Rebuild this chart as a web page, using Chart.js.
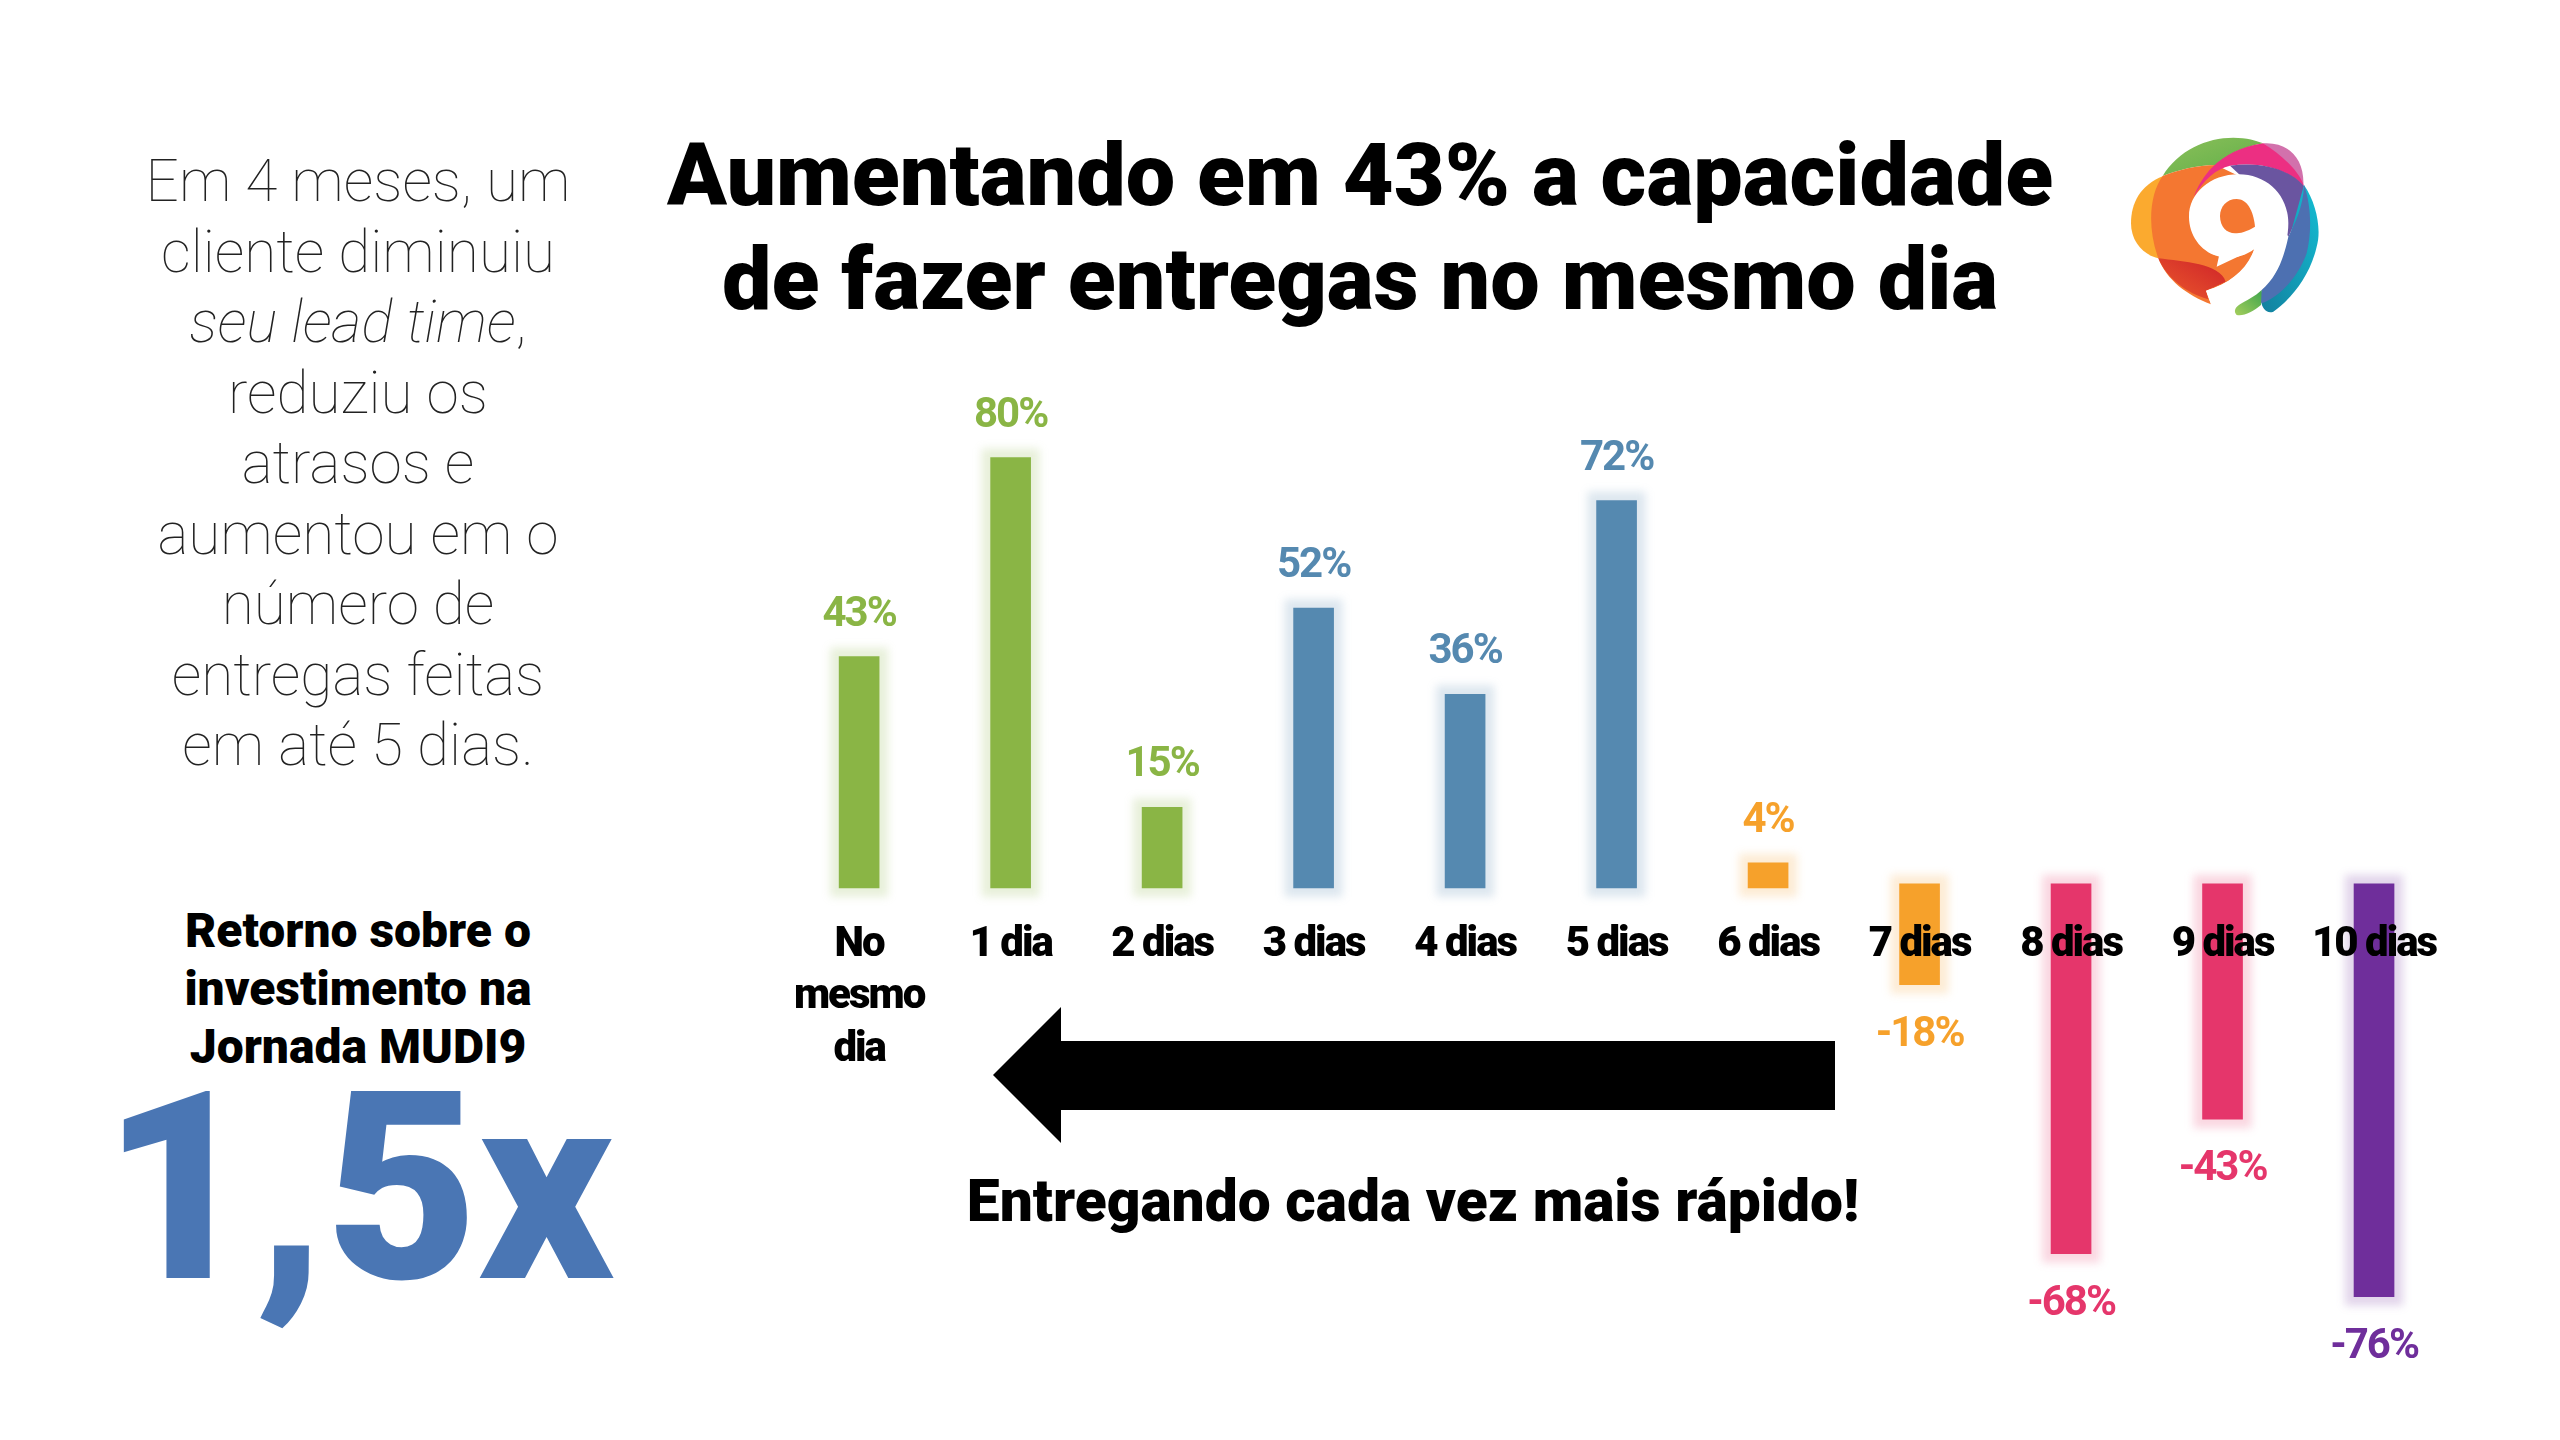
<!DOCTYPE html>
<html lang="pt-BR">
<head>
<meta charset="utf-8">
<title>Aumentando em 43% a capacidade de fazer entregas no mesmo dia</title>
<script src="https://cdn.jsdelivr.net/npm/chart.js@4"></script>
<style>
  html, body { margin: 0; padding: 0; background: #fff; }
  body { width: 2560px; height: 1440px; position: relative; overflow: hidden; font-family: Roboto, sans-serif; }
  .abs { position: absolute; text-align: center; white-space: nowrap; }
  #title { left: 560px; width: 1600px; top: 123px; font-size: 88px; line-height: 104px; font-weight: 900; color: #000; }
  #intro { left: 58px; width: 600px; top: 146px; font-size: 58.5px; line-height: 70.5px; font-weight: 100; color: #222; }
  #roi { left: 58px; width: 600px; top: 902px; font-size: 48px; line-height: 58px; font-weight: 900; color: #000; }
  #mult { left: 58px; width: 600px; top: 1040px; font-size: 263px; line-height: 296px; font-weight: 900; color: #4A76B4; }
  #faster { left: 758px; width: 1310px; top: 1165px; font-size: 58.7px; line-height: 72px; font-weight: 900; color: #000; }
  #arrow { position: absolute; left: 980px; top: 1000px; }
  #logo { position: absolute; left: 2050px; top: 100px; }
  #chartBox { position: absolute; left: 759px; top: 350px; width: 1714px; height: 1022px; }
</style>
</head>
<body>
<div id="title" class="abs">Aumentando em 43% a capacidade<br>de fazer entregas no mesmo dia</div>
<div id="intro" class="abs">Em 4 meses, um<br>cliente diminuiu<br><i>seu lead time</i>,<br>reduziu os<br>atrasos e<br>aumentou em o<br>número de<br>entregas feitas<br>em até 5 dias.</div>
<div id="roi" class="abs">Retorno sobre o<br>investimento na<br>Jornada MUDI9</div>
<div id="mult" class="abs">1,5x</div>
<div id="faster" class="abs">Entregando cada vez mais rápido!</div>

<svg id="logo" width="320" height="260" viewBox="0 0 960 780">
  <defs>
    <linearGradient id="gTop" x1="0" y1="0" x2="1" y2="1"><stop offset="0" stop-color="#8CC05A"/><stop offset="1" stop-color="#5FAE48"/></linearGradient>
    <linearGradient id="gRed" x1="1" y1="0" x2="0" y2="1"><stop offset="0" stop-color="#CE2229"/><stop offset="1" stop-color="#EB5A2C"/></linearGradient>
    <linearGradient id="gTail" x1="1" y1="0" x2="0" y2="1"><stop offset="0" stop-color="#3FA54D"/><stop offset="1" stop-color="#A5CE5C"/></linearGradient>
    <linearGradient id="gTeal" x1="1" y1="0" x2="0" y2="1"><stop offset="0" stop-color="#14BDD3"/><stop offset="1" stop-color="#12809E"/></linearGradient>
  </defs>
  <path fill="#FBAA2F" d="M340 228 C270 255 243 310 243 370 C243 425 280 465 325 475 Z"/>
  <path fill="url(#gTop)" d="M338 228 C385 150 470 113 550 113 C590 113 620 122 640 130 C580 140 530 165 498 195 C440 195 385 210 338 228 Z"/>
  <path fill="#F47731" d="M338 228 C385 210 440 195 498 195 L560 225 L500 500 L613 447 C590 510 540 550 468 572 L483 613 C410 585 350 540 325 475 C290 380 300 280 338 228 Z"/>
  <path fill="url(#gRed)" d="M325 475 C400 485 510 490 527 545 C510 553 490 562 468 572 L475 598 C410 580 350 535 325 475 Z"/>
  <path fill="#D271AC" d="M640 130 C720 125 765 180 760 260 C720 200 680 160 640 130 Z"/>
  <path fill="#EC2F82" d="M432 290 C450 240 500 150 640 130 C700 170 745 210 762 258 C700 200 620 185 540 197 C500 205 460 240 432 290 Z"/>
  <path fill="#6A55A0" d="M540 197 C620 185 710 200 762 258 C760 320 735 370 715 410 L650 300 Z"/>
  <path fill="url(#gTeal)" d="M762 255 C800 310 815 390 800 440 C780 530 720 600 670 635 C650 642 635 625 633 600 L700 480 Z"/>
  <path fill="#4D70B1" d="M762 255 C785 320 785 400 770 460 C745 530 690 590 635 610 C630 600 630 585 635 570 C680 530 700 480 715 410 C735 370 760 320 762 255 Z"/>
  <path fill="url(#gTail)" d="M635 570 L633 615 C610 635 580 650 560 645 C550 635 555 622 570 613 C590 600 615 590 635 570 Z"/>
  <path fill="#fff" d="M566 223 C650 223 715 285 715 370 C715 470 650 560 558 618 L483 613 L468 572 C540 550 595 510 613 447 C590 465 560 475 530 473 C465 470 417 415 417 350 C417 280 480 223 566 223 Z"/>
  <path fill="#F47731" d="M560 297 C590 297 610 330 615 380 C590 395 570 400 555 400 C530 400 510 380 510 348 C510 320 530 297 560 297 Z"/>
</svg>

<div id="chartBox"><canvas id="deliveryChart" width="1714" height="1022"></canvas></div>

<svg id="arrow" width="860" height="150" viewBox="980 1000 860 150">
  <polygon fill="#000" points="993,1075 1061,1007 1061,1041 1835,1041 1835,1110 1061,1110 1061,1143"/>
</svg>

<script>
const categories = [["No", "mesmo", "dia"], "1 dia", "2 dias", "3 dias", "4 dias", "5 dias", "6 dias", "7 dias", "8 dias", "9 dias", "10 dias"];
const deltaValues = [43, 80, 15, 52, 36, 72, 4, -18, -68, -43, -76];
const deltaLabels = ["43%", "80%", "15%", "52%", "36%", "72%", "4%", "-18%", "-68%", "-43%", "-76%"];
const barColors = ["#8AB545", "#8AB545", "#8AB545", "#5589B0", "#5589B0", "#5589B0", "#F6A12B", "#F6A12B", "#E5366B", "#E5366B", "#6F2E9B"];

const gains = deltaValues.map((v) => (v >= 0 ? v : null));
const losses = deltaValues.map((v) => (v < 0 ? v : null));

function forEachBar(chart, fn) {
  chart.data.datasets.forEach((ds, d) => {
    chart.getDatasetMeta(d).data.forEach((bar, i) => {
      if (ds.data[i] !== null) fn(bar, i);
    });
  });
}

// Soft halo behind each bar and the percent label next to it
const barDecor = {
  id: "barDecor",
  beforeDraw(chart) {
    // the original text is a bit condensed
    chart.ctx.letterSpacing = "-2px";
  },
  beforeDatasetsDraw(chart) {
    const ctx = chart.ctx;
    forEachBar(chart, (bar, i) => {
      const top = Math.min(bar.y, bar.base);
      const height = Math.abs(bar.base - bar.y);
      ctx.save();
      ctx.filter = "blur(4px)";
      ctx.globalAlpha = 0.2;
      ctx.fillStyle = barColors[i];
      ctx.fillRect(bar.x - bar.width / 2 - 9, top - 9, bar.width + 18, height + 18);
      ctx.restore();
    });
  },
  afterDatasetsDraw(chart) {
    const ctx = chart.ctx;
    forEachBar(chart, (bar, i) => {
      const up = deltaValues[i] >= 0;
      ctx.save();
      ctx.font = "700 42px Roboto";
      ctx.textAlign = "center";
      ctx.textBaseline = "alphabetic";
      ctx.fillStyle = barColors[i];
      ctx.fillText(deltaLabels[i], bar.x, up ? bar.y - 31 : bar.y + 61);
      ctx.restore();
    });
  },
};

new Chart(document.getElementById("deliveryChart"), {
  type: "bar",
  data: {
    labels: categories,
    datasets: [
      { data: gains, backgroundColor: barColors, barThickness: 40, minBarLength: 25, grouped: false },
      { data: losses, backgroundColor: barColors, barThickness: 40, base: 0.74, grouped: false },
    ],
  },
  options: {
    responsive: false,
    animation: false,
    layout: { padding: 0 },
    plugins: { legend: { display: false }, tooltip: { enabled: false } },
    scales: {
      x: {
        position: { y: 0 },
        grid: { display: false, drawTicks: false },
        border: { display: false },
        ticks: {
          z: 1,
          color: "#000",
          autoSkip: false,
          maxRotation: 0,
          padding: 31,
          font: { family: "Roboto", weight: "900", size: 42, lineHeight: 1.25 },
        },
      },
      y: { display: false, min: -90, max: 100 },
    },
  },
  plugins: [barDecor],
});
</script>
</body>
</html>
